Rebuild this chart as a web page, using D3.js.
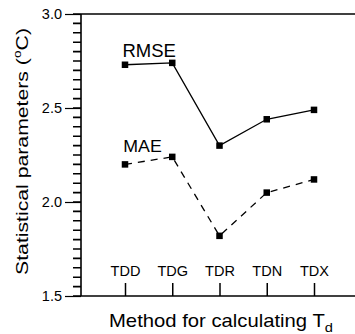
<!DOCTYPE html>
<html><head><meta charset="utf-8">
<script src="https://cdn.jsdelivr.net/npm/d3@7"></script>
<style>
html,body{margin:0;padding:0;background:#fff;}
text{font-family:"Liberation Sans",Arial,Helvetica,sans-serif;fill:#000;}
</style></head>
<body>
<svg id="c" width="355" height="334"></svg>
<script>
const categories = ["TDD","TDG","TDR","TDN","TDX"];
const rmse = [2.73, 2.74, 2.30, 2.44, 2.49];
const mae  = [2.20, 2.24, 1.82, 2.05, 2.12];
const yMajorTicks = [1.5, 2.0, 2.5, 3.0];
const yMinorTicks = d3.range(31).map(i => +(1.5 + i*0.05).toFixed(2));

const svg = d3.select("#c");
const mLeft = 81, mTop = 14, mBottom = 296, mRight = 356;

const x = d3.scalePoint().domain(categories).range([125, 314]);
const y = d3.scaleLinear().domain([1.5, 3.0]).range([mBottom, mTop]);

function stretch(sel, target, baseTransform) {
  const len = sel.node().getComputedTextLength();
  const sx = target / len;
  sel.attr("transform", `${baseTransform} scale(${sx},1)`);
}

svg.append("line").attr("x1", mLeft).attr("x2", mRight).attr("y1", mTop).attr("y2", mTop)
  .attr("stroke","#000").attr("stroke-width",1.5);
svg.append("line").attr("x1", mLeft).attr("x2", mRight).attr("y1", mBottom).attr("y2", mBottom)
  .attr("stroke","#000").attr("stroke-width",1.5);

// minor ticks (outward, left)
const minorPath = yMinorTicks.map(d => `M${mLeft - 8},${y(d)}H${mLeft}`).join("");
svg.append("path").attr("d", minorPath).attr("fill","none")
  .attr("stroke","#000").attr("stroke-width",1.6);

const yMajor = d3.axisLeft(y).tickValues(yMajorTicks).tickSize(16).tickPadding(3).tickFormat(d3.format(".1f"));
const gMaj = svg.append("g").attr("transform", `translate(${mLeft},0)`).call(yMajor);
gMaj.select(".domain").attr("stroke","#000").attr("stroke-width",1.6).attr("d", `M0,${mTop}V${mBottom}`);
gMaj.selectAll(".tick line").attr("stroke","#000").attr("stroke-width",1.2);
gMaj.selectAll(".tick text").attr("font-size", 14.5).attr("font-family","Liberation Sans, Arial, sans-serif");

const xAxis = d3.axisTop(x).tickSize(13).tickPadding(7);
const gx = svg.append("g").attr("transform", `translate(0,${mBottom})`).call(xAxis);
gx.select(".domain").remove();
gx.selectAll(".tick line").attr("stroke","#000").attr("stroke-width",1.5);
gx.selectAll(".tick text").attr("font-size", 14.5).attr("font-family","Liberation Sans, Arial, sans-serif");

const line = d3.line().x((d,i) => x(categories[i])).y(d => y(d));
svg.append("path").datum(rmse).attr("d", line).attr("fill","none")
  .attr("stroke","#000").attr("stroke-width",1.3);
svg.append("path").datum(mae).attr("d", line).attr("fill","none")
  .attr("stroke","#000").attr("stroke-width",1.3).attr("stroke-dasharray","7,6");

const s = 6.5;
[rmse, mae].forEach(arr => {
  svg.append("g").selectAll("rect").data(arr).join("rect")
    .attr("x", (d,i) => x(categories[i]) - s/2)
    .attr("y", d => y(d) - s/2)
    .attr("width", s).attr("height", s).attr("fill","#000");
});

const tR = svg.append("text").attr("font-size", 17.5).text("RMSE");
stretch(tR, 53.5, "translate(122.5,56.7)");
const tM = svg.append("text").attr("font-size", 17).text("MAE");
stretch(tM, 38.5, "translate(123.3,151.7)");

const yt = svg.append("text").attr("text-anchor","middle").attr("font-size", 17);
yt.append("tspan").text("Statistical parameters  (");
yt.append("tspan").attr("font-size", 11).attr("dy", -7).text("o");
yt.append("tspan").attr("dy", 7).text("C)");
stretch(yt, 247, "translate(28,151.5) rotate(-90)");

const xt = svg.append("text").attr("font-size", 18);
xt.append("tspan").text("Method for calculating T");
xt.append("tspan").attr("font-size", 13).attr("dy", 5).text("d");
stretch(xt, 224, "translate(109,327.3)");
</script>
</body></html>
